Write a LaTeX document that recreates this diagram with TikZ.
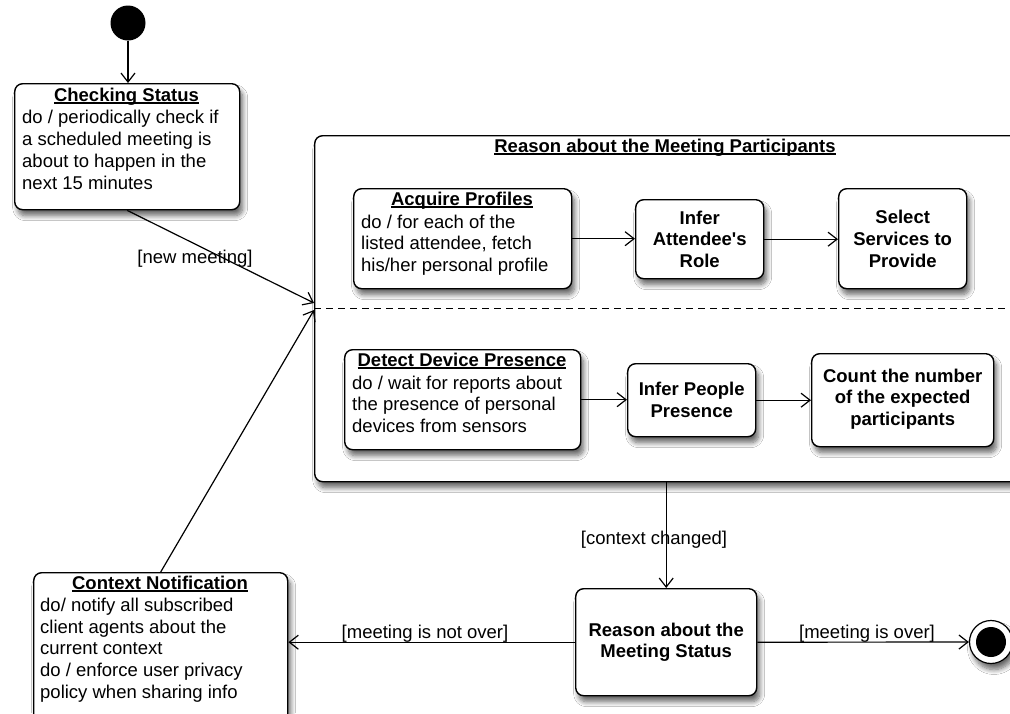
\documentclass[tikz,border=0pt]{standalone}
\usepackage{fontspec}
\setmainfont{Liberation Sans}
\usetikzlibrary{arrows.meta,shadows.blur}

% bold title with a rule just under the baseline
\newcommand\titleul[1]{\setbox0\hbox{\textbf{#1}}\rlap{\rule[-2.4pt]{\wd0}{1.2pt}}\box0}

\tikzset{
  softshadow/.style={blur shadow={shadow xshift=3pt, shadow yshift=-6pt, shadow blur steps=8, shadow blur radius=5pt, shadow opacity=60}},
  stbox/.style={draw, line width=1.4pt, rounded corners=8pt, fill=white,
    inner sep=0pt, anchor=north west, softshadow},
  boldtxt/.style={font=\fontsize{18.5}{21.8}\selectfont\bfseries, align=center},
  ttl/.style={inner sep=0pt, anchor=north, font=\fontsize{18.5}{21.8}\selectfont},
  body/.style={inner sep=0pt, anchor=north west, align=left, font=\fontsize{18.5}{21.8}\selectfont},
  guard/.style={inner sep=0pt, font=\fontsize{18.5}{21.8}\selectfont},
  arr/.style={line width=1.2pt, -{Straight Barb[length=9pt, width=14pt, line width=1.2pt]}},
}

\begin{document}
\begin{tikzpicture}[x=1pt, y=-1pt]
  \useasboundingbox (0,0) rectangle (1010,713);
  \fill[white] (0,0) rectangle (1010,713);
  \clip (0,0) rectangle (1010,713);

  % initial and final pseudo-states
  \node[circle, fill=black, minimum size=35pt, inner sep=0pt] (init) at (128,23) {};
  \node[circle, draw, line width=1.2pt, fill=white, minimum size=43pt, inner sep=0pt, softshadow] (fin) at (991,642) {};
  \node[circle, fill=black, minimum size=30pt, inner sep=0pt] (finin) at (fin) {};

  % Checking Status
  \node[stbox, minimum width=225pt, minimum height=126pt] (cs) at (14,83) {};
  \node[ttl] (cst) at (126.5,87.6) {\titleul{Checking Status}};
  \node[body] (csb) at (22,110) {do / periodically check if\\a scheduled meeting is\\about to happen in the\\next 15 minutes};

  % composite state with two regions
  \node[stbox, minimum width=730pt, minimum height=346pt] (rmp) at (314,135) {};
  \node[ttl] (rmpt) at (665,138.6) {\titleul{Reason about the Meeting Participants}};
  \draw[line width=1.2pt, dash pattern=on 7pt off 5pt] (rmp.west) -- (rmp.east);

  % upper region
  \node[stbox, minimum width=218pt, minimum height=100pt] (ap) at (353,188) {};
  \node[ttl] (apt) at (462,191.6) {\titleul{Acquire Profiles}};
  \node[body] (apb) at (361,214.4) {do / for each of the\\listed attendee, fetch\\his/her personal profile};
  \node[stbox, minimum width=128pt, minimum height=79pt] (iar) at (635,199) {};
  \node[boldtxt] (iart) at (iar.center) {Infer\\Attendee\textquotesingle s\\Role};
  \node[stbox, minimum width=128pt, minimum height=100pt] (ssp) at (838,188) {};
  \node[boldtxt] (sspt) at (ssp.center) {Select\\Services to\\Provide};

  % lower region
  \node[stbox, minimum width=236pt, minimum height=100pt] (ddp) at (344,349) {};
  \node[ttl] (ddpt) at (462,352.6) {\titleul{Detect Device Presence}};
  \node[body] (ddpb) at (352,375.4) {do / wait for reports about\\the presence of personal\\devices from sensors};
  \node[stbox, minimum width=128pt, minimum height=73pt] (ipp) at (627,363) {};
  \node[boldtxt] (ippt) at (ipp.center) {Infer People\\Presence};
  \node[stbox, minimum width=182pt, minimum height=93pt] (cnt) at (811,353) {};
  \node[boldtxt] (cntt) at ([yshift=1pt]cnt.center) {Count the number\\of the expected\\participants};

  % Reason about the Meeting Status
  \node[stbox, minimum width=181pt, minimum height=107pt] (rms) at (575,588) {};
  \node[boldtxt] (rmst) at (rms.center) {Reason about the\\Meeting Status};

  % Context Notification
  \node[stbox, minimum width=254pt, minimum height=150pt] (cn) at (33,572) {};
  \node[ttl] (cnt1) at (160,575.6) {\titleul{Context Notification}};
  \node[body] (cnb) at (40,597.6) {do/ notify all subscribed\\client agents about the\\current context\\do / enforce user privacy\\policy when sharing info};

  % entry points on the composite state
  \coordinate (inA) at (314,303);
  \coordinate (inB) at (314,310);

  % transitions
  \draw[arr] (init) -- (init |- cs.north);
  \draw[arr] (cs.south) -- (inA);
  \node[guard] (g1) at (195,259) {[new meeting]};
  \draw[arr] (cn.north) -- (inB);
  \draw[arr] (ap.east) -- (ap.east -| iar.west);
  \draw[arr] (iar.east) -- (iar.east -| ssp.west);
  \draw[arr] (ddp.east) -- (ddp.east -| ipp.west);
  \draw[arr] (ipp.east) -- (ipp.east -| cnt.west);
  \draw[arr] (rms.north |- rmp.south) -- (rms.north);
  \node[guard] (g2) at (654,540) {[context changed]};
  \draw[arr] (rms.west) -- (rms.west -| cn.east);
  \node[guard] (g3) at (425,634) {[meeting is not over]};
  \draw[arr] (rms.east) -- (fin);
  \node[guard] (g4) at (867,634) {[meeting is over]};
\end{tikzpicture}
\end{document}
